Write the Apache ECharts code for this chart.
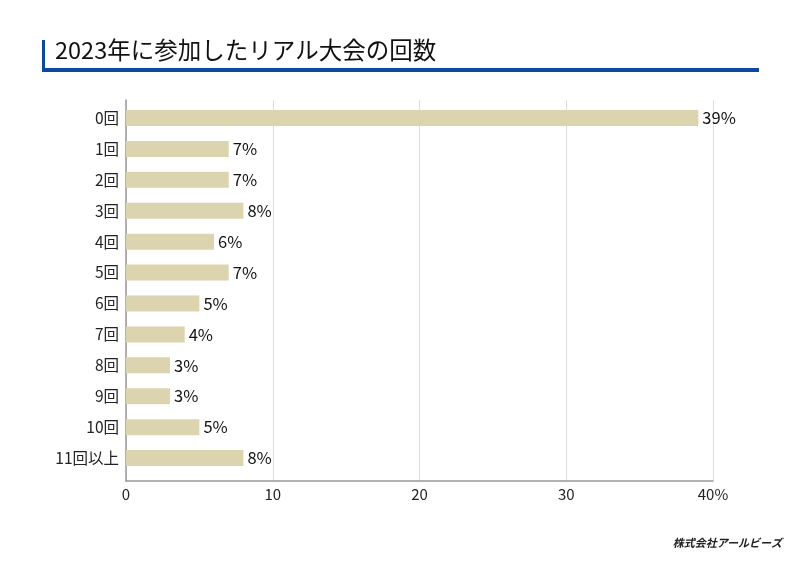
<!DOCTYPE html>
<html><head><meta charset="utf-8">
<script src="https://cdn.jsdelivr.net/npm/echarts@6/dist/echarts.min.js"></script>
<style>html,body{margin:0;padding:0;background:#fff}#c{width:800px;height:566px}</style>
</head><body><div id="c"></div>
<script>
const categories = ['0回','1回','2回','3回','4回','5回','6回','7回','8回','9回','10回','11回以上'];
const values = [39, 7, 7, 8, 6, 7, 5, 4, 3, 3, 5, 8];
const xTicks = [0, 10, 20, 30, 40];
const titleText = '2023年に参加したリアル大会の回数';
const creditText = '株式会社アールビーズ';

const font = '"Noto Sans CJK JP", "Noto Sans", sans-serif';
const chart = echarts.init(document.getElementById('c'));
chart.setOption({
  animation: false,
  backgroundColor: '#fff',
  textStyle: { fontFamily: font },
  graphic: [
    { type: 'rect', shape: { x: 42, y: 40, width: 3, height: 32 }, style: { fill: '#0d4a9c' } },
    { type: 'rect', shape: { x: 42, y: 68, width: 717, height: 4 }, style: { fill: '#0d4a9c' } },
    { type: 'text', left: 55, top: 38, style: { text: titleText, fill: '#111', font: '400 23.5px ' + font } },
    { type: 'text', right: 18, top: 537, style: { text: creditText, fill: '#222', font: 'italic bold 11px ' + font } }
  ],
  grid: [
    { left: 126, right: 87, top: 102.5, height: 371, containLabel: false },
    { left: 126, right: 87, top: 100, bottom: 85, containLabel: false }
  ],
  xAxis: [
    { gridIndex: 0, type: 'value', min: 0, max: 40, interval: 10, show: false },
    { gridIndex: 1, type: 'value', min: 0, max: 40, interval: 10,
      axisLine: { show: true, lineStyle: { color: '#999', width: 1.5 } },
      axisTick: { show: false },
      splitLine: { show: true, lineStyle: { color: '#ddd', width: 1 } },
      axisLabel: { color: '#222', fontSize: 15, margin: 6, fontFamily: font,
        formatter: v => (v === 40 ? v + '%' : String(v)) } }
  ],
  yAxis: [
    { gridIndex: 0, type: 'category', data: categories, inverse: true,
      axisLine: { show: false }, axisTick: { show: false },
      axisLabel: { color: '#222', fontSize: 15.5, margin: 7, fontFamily: font } },
    { gridIndex: 1, type: 'value', min: 0, max: 1, show: true,
      axisLine: { show: true, lineStyle: { color: '#999', width: 1.5 } },
      axisTick: { show: false }, axisLabel: { show: false }, splitLine: { show: false } }
  ],
  series: [{
    type: 'bar', xAxisIndex: 0, yAxisIndex: 0, data: values, barWidth: 16,
    itemStyle: { color: '#dbd4ae' },
    label: { show: true, position: 'right', distance: 4, formatter: '{c}%', color: '#111', fontSize: 16.5, fontFamily: font }
  }]
});
</script></body></html>
